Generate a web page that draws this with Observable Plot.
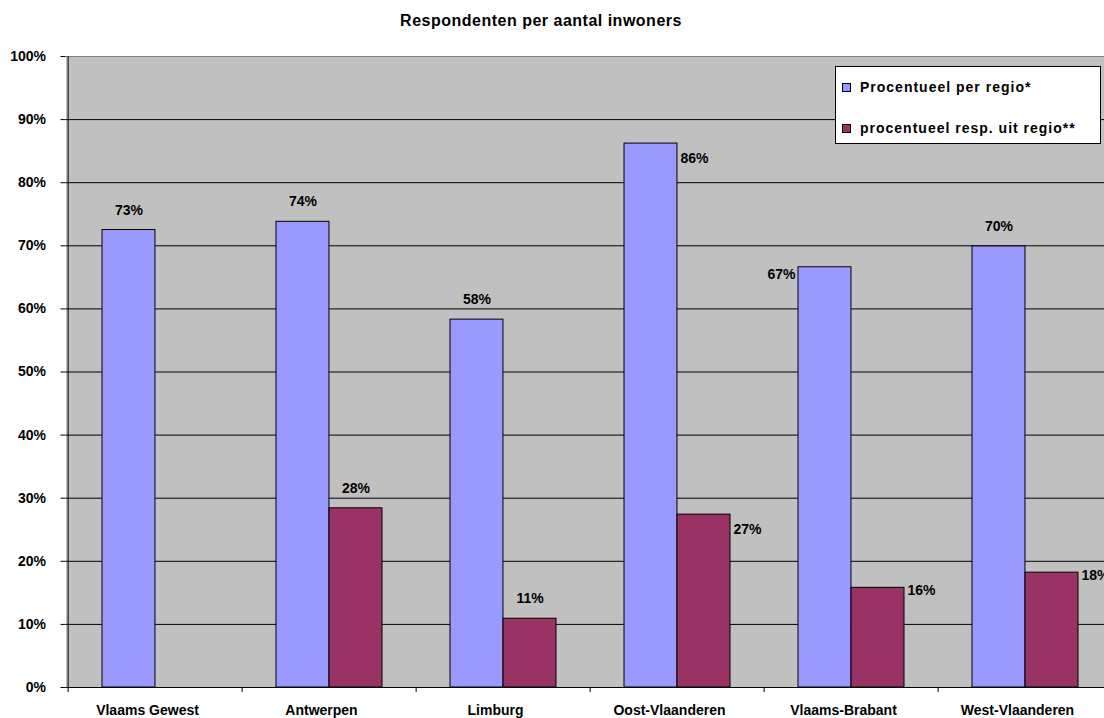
<!DOCTYPE html>
<html><head><meta charset="utf-8">
<script src="https://cdn.jsdelivr.net/npm/d3@7"></script>
<script src="https://cdn.jsdelivr.net/npm/@observablehq/plot@0.6"></script>
<style>
html,body{margin:0;padding:0;background:#fff;overflow:hidden;}
#wrap{position:relative;width:1104px;height:718px;overflow:hidden;font-family:"Liberation Sans",Arial,sans-serif;font-weight:bold;color:#000;}
#title{height:40px;width:1082px;text-align:center;font-size:16px;letter-spacing:0.5px;line-height:42px;}
#chart{position:absolute;left:0;top:40px;width:1114px;}
#chart svg{max-width:none !important;}
#legend{position:absolute;left:835px;top:66px;width:264px;height:76px;border:1px solid #000;background:#fff;}
.item{position:absolute;left:6px;font-size:14px;letter-spacing:1px;line-height:16px;white-space:nowrap;}
.sw{display:inline-block;width:7px;height:7px;border:1px solid #000;margin-right:9px;vertical-align:0px;}
</style></head><body>
<div id="wrap"><div id="title">Respondenten per aantal inwoners</div><div id="chart"></div><div id="legend"></div></div>
<script>
const categories = ["Vlaams Gewest","Antwerpen","Limburg","Oost-Vlaanderen","Vlaams-Brabant","West-Vlaanderen"];
const perRegio = [72.5, 73.8, 58.3, 86.2, 66.6, 69.9];
const respUitRegio = [null, 28.4, 10.9, 27.4, 15.8, 18.2];
const seriesNames = ["Procentueel per regio*", "procentueel resp. uit regio**"];
const yTicks = [0,10,20,30,40,50,60,70,80,90,100];
const labelPlaceA = ["above","above","above","rightLow","left","above"];
const labelPlaceB = [null,"above","above","rightLow","right","right"];

const colors = ["#9999FF","#993366"];
const W = 1114, H = 678, ML = 65.5, MT = 16, MB = 31;
const step = (W - ML) / categories.length;
const padInner = 0.393;
const bw = step * (1 - padInner);
const half = bw / 2;

const rows = [];
categories.forEach((c, i) => {
  rows.push({cat: c, s: 0, v: perRegio[i], pos: labelPlaceA[i]});
  if (respUitRegio[i] != null) rows.push({cat: c, s: 1, v: respUitRegio[i], pos: labelPlaceB[i]});
});

const placeOpts = {
  above: {dxExtra: 0, dy: -20, textAnchor: "middle"},
  right: {dxExtra: half / 2 + 3, dy: 3, textAnchor: "start"},
  rightLow: {dxExtra: half / 2 + 3, dy: 15, textAnchor: "start"},
  left: {dxExtra: -(half / 2 + 3), dy: 7, textAnchor: "end"}
};

const labelMarks = [];
for (const s of [0, 1]) {
  for (const p of Object.keys(placeOpts)) {
    const sub = rows.filter(d => d.s === s && d.pos === p);
    if (!sub.length) continue;
    const o = placeOpts[p];
    labelMarks.push(Plot.text(sub, {
      x: "cat", y: "v", text: d => Math.round(d.v) + "%",
      dx: (s === 0 ? -half / 2 : half / 2) + o.dxExtra, dy: o.dy,
      textAnchor: o.textAnchor, lineAnchor: "middle", fontSize: 14, fontWeight: "bold", fill: "#000"
    }));
  }
}

const chart = Plot.plot({
  width: W, height: H,
  marginLeft: ML, marginRight: 0, marginTop: MT, marginBottom: MB,
  style: {fontFamily: "'Liberation Sans', Arial, sans-serif", fontSize: "14px", fontWeight: "bold", background: "transparent", color: "#000", overflow: "visible", maxWidth: "none"},
  x: {domain: categories, type: "band", paddingInner: padInner, paddingOuter: padInner / 2, label: null},
  y: {domain: [0, 100], label: null},
  marks: [
    Plot.frame({fill: "#C0C0C0", stroke: "none"}),
    Plot.ruleY(yTicks.filter(t => t > 0 && t < 100), {stroke: "#000", strokeWidth: 1}),
    Plot.ruleY([100], {stroke: "#808080"}),
    Plot.barY(rows.filter(d => d.s === 0), {x: "cat", y: "v", fill: colors[0], stroke: "#000", strokeWidth: 1, insetRight: half}),
    Plot.barY(rows.filter(d => d.s === 1), {x: "cat", y: "v", fill: colors[1], stroke: "#000", strokeWidth: 1, insetLeft: half}),
    Plot.ruleY([0], {stroke: "#000"}),
    Plot.ruleX([categories[0]], {dx: -step / 2, y1: 0, y2: 100, stroke: "#000"}),
    Plot.axisY(yTicks, {tickFormat: d => d + "%", tickSize: 5, tickPadding: 15, fontSize: 14, fontWeight: "bold", label: null, stroke: "#000"}),
    Plot.axisX(categories, {tickSize: 5, tickFormat: () => "", dx: -step / 2, label: null, stroke: "#000"}),
    Plot.axisX(categories, {tickSize: 0, tickPadding: 18, dx: -8, fontSize: 14, fontWeight: "bold", label: null}),
    ...labelMarks
  ]
});
document.getElementById("chart").appendChild(chart);

const legend = document.getElementById("legend");
seriesNames.forEach((n, i) => {
  const it = document.createElement("div");
  it.className = "item";
  it.style.top = (i === 0 ? 12 : 53) + "px";
  const sw = document.createElement("span");
  sw.className = "sw";
  sw.style.background = colors[i];
  it.appendChild(sw);
  it.appendChild(document.createTextNode(n));
  legend.appendChild(it);
});
</script>
</body></html>
